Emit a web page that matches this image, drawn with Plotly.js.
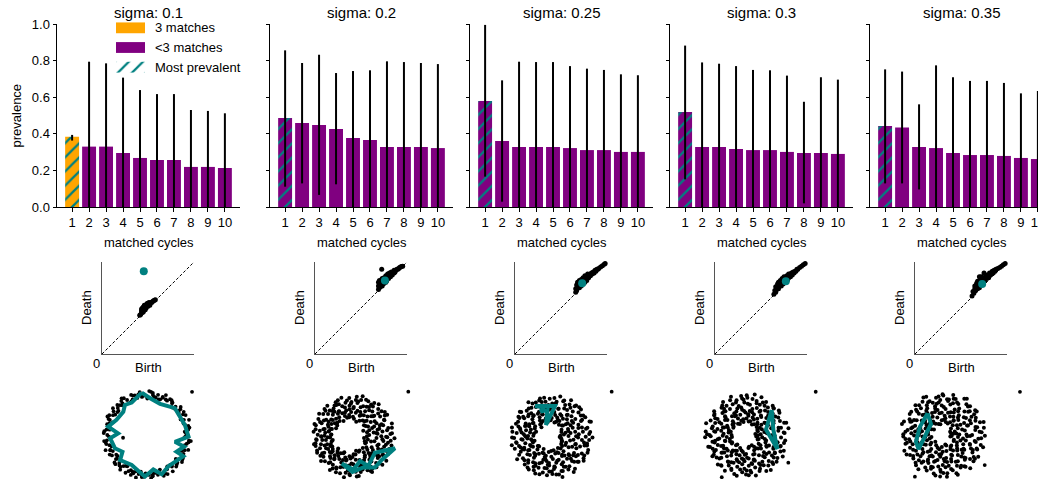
<!DOCTYPE html>
<html>
<head>
<meta charset="utf-8">
<script src="https://cdn.plot.ly/plotly-3.0.1.min.js"></script>
<style>
html, body { margin:0; padding:0; background:#fff; overflow:hidden; }
#wrap { width:1038px; height:479px; overflow:hidden; position:relative; }
#chart { position:absolute; left:0; top:0; width:1060px; height:540px; }
</style>
</head>
<body>
<div id="wrap"><div id="chart"></div></div>
<script>
// ================= DATA =================
const sigmaLabels = ['sigma: 0.1', 'sigma: 0.2', 'sigma: 0.25', 'sigma: 0.3', 'sigma: 0.35'];
const matchedCycles = [1, 2, 3, 4, 5, 6, 7, 8, 9, 10];
const yTickValues = [0, 0.2, 0.4, 0.6, 0.8, 1.0];
const legendLabels = ['3 matches', '<3 matches', 'Most prevalent'];
const legendPatch = [1, 1, 1];
const mostPrevalentCycle = [1, 1, 1, 1, 1];

const prevalence_s01  = [0.384, 0.330, 0.330, 0.295, 0.268, 0.257, 0.257, 0.219, 0.219, 0.213];
const errLow_s01      = [0.363, 0, 0, 0, 0, 0, 0, 0, 0, 0];
const errHigh_s01     = [0.394, 0.794, 0.785, 0.707, 0.639, 0.617, 0.617, 0.530, 0.525, 0.512];
const fullMatch_s01   = [true, false, false, false, false, false, false, false, false, false];

const prevalence_s02  = [0.486, 0.459, 0.448, 0.426, 0.377, 0.366, 0.328, 0.328, 0.328, 0.322];
const errLow_s02      = [0.111, 0.129, 0.066, 0.124, 0, 0, 0, 0, 0, 0];
const errHigh_s02     = [0.856, 0.787, 0.832, 0.732, 0.743, 0.747, 0.796, 0.792, 0.787, 0.781];
const fullMatch_s02   = [false, false, false, false, false, false, false, false, false, false];

const prevalence_s025 = [0.579, 0.361, 0.328, 0.328, 0.328, 0.322, 0.311, 0.311, 0.301, 0.301];
const errLow_s025     = [0.166, 0.029, 0, 0, 0, 0, 0, 0, 0, 0];
const errHigh_s025    = [0.995, 0.692, 0.794, 0.792, 0.792, 0.770, 0.756, 0.749, 0.725, 0.720];
const fullMatch_s025  = [false, false, false, false, false, false, false, false, false, false];

const prevalence_s03  = [0.519, 0.328, 0.328, 0.317, 0.311, 0.311, 0.301, 0.295, 0.295, 0.290];
const errLow_s03      = [0.151, 0, 0, 0, 0, 0, 0, 0.020, 0, 0];
const errHigh_s03     = [0.882, 0.790, 0.783, 0.770, 0.749, 0.747, 0.718, 0.575, 0.709, 0.696];
const fullMatch_s03   = [false, false, false, false, false, false, false, false, false, false];

const prevalence_s035 = [0.443, 0.434, 0.328, 0.322, 0.295, 0.284, 0.284, 0.279, 0.268, 0.262];
const errLow_s035     = [0.129, 0.129, 0.096, 0, 0, 0, 0, 0, 0, 0];
const errHigh_s035    = [0.752, 0.740, 0.561, 0.774, 0.709, 0.689, 0.689, 0.678, 0.621, 0.634];
const fullMatch_s035  = [false, false, false, false, false, false, false, false, false, false];

// persistence diagrams (birth, death)
const diagonalLine = [0, 1];
const pdBirth_s01 = [0.41,0.42,0.43,0.43,0.44,0.44,0.44,0.45,0.45,0.46,0.46,0.47,0.47,0.47,0.48,0.48,0.49,0.50,0.50,0.51,0.52,0.52,0.53,0.54,0.55,0.56,0.57,0.58,0.43,0.45,0.46,0.49,0.51];
const pdDeath_s01 = [0.42,0.43,0.47,0.45,0.45,0.49,0.50,0.50,0.46,0.48,0.52,0.51,0.48,0.53,0.50,0.53,0.53,0.52,0.55,0.54,0.55,0.53,0.56,0.56,0.57,0.58,0.585,0.59,0.49,0.51,0.53,0.55,0.56];
const pdBirth_s02 = [0.69,0.69,0.69,0.70,0.70,0.70,0.71,0.71,0.72,0.72,0.73,0.73,0.73,0.74,0.74,0.75,0.75,0.76,0.77,0.77,0.77,0.78,0.79,0.79,0.80,0.81,0.81,0.82,0.83,0.83,0.84,0.85,0.86,0.86,0.87,0.88,0.89,0.90,0.91,0.92,0.93,0.94,0.953,0.725];
const pdDeath_s02 = [0.70,0.74,0.78,0.72,0.76,0.80,0.73,0.77,0.75,0.79,0.74,0.78,0.82,0.76,0.80,0.77,0.83,0.79,0.78,0.82,0.85,0.80,0.84,0.87,0.82,0.85,0.88,0.84,0.87,0.89,0.86,0.89,0.88,0.91,0.89,0.91,0.92,0.92,0.93,0.94,0.945,0.95,0.955,0.92];
const pdBirth_s025 = [0.66,0.66,0.67,0.67,0.68,0.68,0.69,0.70,0.70,0.71,0.72,0.72,0.73,0.74,0.74,0.75,0.76,0.76,0.77,0.78,0.79,0.79,0.80,0.81,0.82,0.83,0.84,0.85,0.86,0.87,0.88,0.89,0.90,0.91,0.93,0.95,0.97,0.98];
const pdDeath_s025 = [0.67,0.71,0.69,0.75,0.72,0.78,0.74,0.72,0.80,0.76,0.74,0.81,0.78,0.76,0.83,0.80,0.78,0.85,0.82,0.80,0.84,0.87,0.83,0.86,0.85,0.88,0.87,0.89,0.88,0.91,0.90,0.92,0.92,0.93,0.945,0.96,0.975,0.985];
const pdBirth_s03 = [0.64,0.65,0.66,0.66,0.67,0.68,0.69,0.69,0.70,0.71,0.72,0.72,0.73,0.74,0.75,0.75,0.76,0.77,0.78,0.79,0.80,0.80,0.81,0.82,0.83,0.84,0.85,0.86,0.87,0.88,0.89,0.90,0.92,0.94,0.96,0.98];
const pdDeath_s03 = [0.65,0.69,0.67,0.73,0.70,0.76,0.71,0.78,0.74,0.80,0.74,0.78,0.82,0.76,0.80,0.84,0.78,0.82,0.85,0.81,0.83,0.87,0.85,0.84,0.88,0.86,0.89,0.88,0.90,0.90,0.92,0.92,0.94,0.955,0.97,0.985];
const pdBirth_s035 = [0.62,0.63,0.64,0.65,0.65,0.66,0.67,0.68,0.68,0.69,0.70,0.71,0.72,0.72,0.73,0.74,0.75,0.76,0.77,0.78,0.79,0.80,0.81,0.82,0.83,0.84,0.85,0.86,0.87,0.88,0.90,0.92,0.94,0.96,0.98,0.70,0.75];
const pdDeath_s035 = [0.63,0.68,0.66,0.71,0.74,0.69,0.77,0.71,0.79,0.75,0.72,0.81,0.76,0.84,0.79,0.77,0.83,0.80,0.86,0.82,0.85,0.83,0.88,0.86,0.87,0.90,0.88,0.91,0.90,0.92,0.93,0.94,0.955,0.97,0.985,0.84,0.88];
const pdTopBirth = [0.454, 0.76, 0.73, 0.77, 0.73];
const pdTopDeath = [0.90, 0.80, 0.77, 0.79, 0.76];

// point clouds (polar: angle in degrees, radius)
const cloudTheta_s01 = [0,5,10,15,20,25,30,35,40,45,50,55,60,65,70,75,80,85,90,95,100,105,110,115,120,125,130,135,140,145,150,155,160,165,170,175,180,185,190,195,200,205,210,215,220,225,230,235,240,245,250,255,260,265,270,275,280,285,290,295,300,305,310,315,320,325,330,335,340,345,350,355,
 7,22,38,52,68,82,98,112,128,142,158,172,188,202,218,232,248,262,278,292,308,322,338,352,
 2.5,12.5,22.5,32.5,42.5,52.5,62.5,72.5,82.5,92.5,102.5,112.5,122.5,132.5,142.5,152.5,162.5,172.5,182.5,192.5,202.5,212.5,222.5,232.5,242.5,252.5,262.5,272.5,282.5,292.5,302.5,312.5,322.5,332.5,342.5,352.5,
 7.5,17.5,27.5,37.5,47.5,57.5,67.5,77.5,87.5,97.5,107.5,117.5,127.5,137.5,147.5,157.5,167.5,177.5,187.5,197.5,207.5,217.5,227.5,237.5,247.5,257.5,267.5,277.5,287.5,297.5,307.5,317.5,327.5,337.5,347.5,357.5,
 186.5];
const cloudR_s01 = [1.00,0.94,1.07,0.98,1.11,0.92,1.03,0.96,1.09,1.00,0.93,1.06,0.99,1.10,0.95,1.04,0.97,1.08,0.91,1.02,1.09,0.96,1.05,0.93,1.01,1.12,0.97,1.06,0.94,1.03,0.99,1.10,0.92,1.04,0.97,1.08,1.00,0.93,1.06,0.98,1.11,0.95,1.02,0.91,1.07,0.99,1.04,0.94,1.09,0.97,1.02,1.10,0.93,1.05,0.98,1.08,0.95,1.03,0.92,1.06,0.99,1.11,0.96,1.04,0.93,1.07,1.00,0.94,1.09,0.97,1.05,0.92,
 1.02,0.97,1.05,1.01,1.03,1.01,0.96,1.08,1.00,1.09,1.01,0.95,1.09,1.00,0.96,1.10,0.99,1.01,1.00,1.10,1.00,1.10,1.01,1.10,
 0.97,1.05,0.99,1.08,0.95,1.03,1.00,0.93,1.06,0.98,1.04,0.96,1.09,1.01,0.94,1.07,0.99,1.03,0.96,1.05,1.00,0.92,1.08,0.98,1.02,0.95,1.06,1.00,0.97,1.04,0.93,1.07,0.99,1.02,0.96,1.05,
 1.03,0.95,1.08,0.99,0.93,1.06,1.01,0.96,1.10,0.98,1.04,0.92,1.07,1.00,0.95,1.05,0.97,1.09,1.02,0.94,1.06,0.99,1.03,0.93,1.08,1.00,0.96,1.04,0.98,1.10,0.94,1.02,1.06,0.97,1.01,0.95,
 0.61];

const cloudThetaA = [0,2,5,7,10,12,14,17,19,22,24,26,29,31,34,36,38,41,43,46,48,50,53,55,58,60,62,65,67,70,72,74,77,79,82,84,86,89,91,94,96,98,101,103,106,108,110,113,115,118,120,122,125,127,130,132,134,137,139,142,144,146,149,151,154,156,158,161,163,166,168,170,173,175,178,180,182,185,187,190,192,194,197,199,202,204,206,209,211,214,216,218,221,223,226,228,230,233,235,238,240,242,245,247,250,252,254,257,259,262,264,266,269,271,274,276,278,281,283,286,288,290,293,295,298,300,302,305,307,310,312,314,317,319,322,324,326,329,331,334,336,338,341,343,346,348,350,353,355,358];
const cloudThetaB = [1,4,6,9,11,13,16,18,21,23,25,28,30,33,35,37,40,42,45,47,49,52,54,57,59,61,64,66,69,71,73,76,78,81,83,85,88,90,93,95,97,100,102,105,107,109,112,114,117,119,121,124,126,129,131,133,136,138,141,143,145,148,150,153,155,157,160,162,165,167,169,172,174,177,179,181,184,186,189,191,193,196,198,201,203,205,208,210,213,215,217,220,222,225,227,229,232,234,237,239,241,244,246,249,251,253,256,258,261,263,265,268,270,273,275,277,280,282,285,287,289,292,294,297,299,301,304,306,309,311,313,316,318,321,323,325,328,330,333,335,337,340,342,345,347,349,352,354,357,359];

const cloudR_s02 = [0.82,0.34,0.97,0.61,0.74, 0.52,0.9,0.68,1.02,0.43, 0.77,0.58,0.88,0.29,0.95, 0.66,1.0,0.41,0.85,0.71, 0.93,0.52,0.79,0.62,0.99, 0.47,0.84,0.7,0.96,0.58,
 0.8,0.64,1.04,0.38,0.89, 0.6,0.92,0.74,0.5,0.83, 0.97,0.69,0.55,0.87,0.76, 0.5,0.81,0.99,0.65,0.9, 0.73,0.46,0.86,0.78,1.01, 0.88,0.62,0.95,0.53,0.7,
 0.57,1.03,0.72,0.84,0.48, 0.91,0.67,0.59,0.98,0.77, 0.63,0.85,1.0,0.56,0.72, 0.8,0.58,0.92,0.69,0.96, 0.55,0.97,0.75,0.88,0.62, 0.99,0.7,0.83,0.6,0.9,
 0.68,0.48,0.94,0.78,0.57, 0.86,0.74,0.52,1.02,0.66, 0.45,0.9,0.71,0.83,0.97, 0.79,0.6,1.04,0.5,0.73, 0.94,0.67,0.82,0.44,0.88, 0.58,0.99,0.36,0.76,0.85,
 0.72,0.4,0.91,0.64,1.0, 0.87,0.55,0.7,0.96,0.37, 0.63,0.93,0.48,0.81,0.75, 1.02,0.59,0.86,0.34,0.69, 0.78,0.31,0.95,0.66,0.84, 0.54,0.88,0.27,0.73,1.03];
const cloudR2_s02 = [0.7,0.93,0.4,0.58,0.86, 0.99,0.63,0.36,0.8,0.72, 0.52,0.88,0.67,1.01,0.45, 0.84,0.57,0.95,0.74,0.39, 0.68,1.03,0.48,0.9,0.77, 0.92,0.6,0.82,0.43,0.98,
 0.55,0.76,0.94,0.66,0.85, 1.0,0.45,0.71,0.87,0.62, 0.78,0.92,0.5,0.68,1.02, 0.64,0.56,0.89,0.97,0.73, 0.91,0.69,0.6,0.83,0.52, 0.75,1.0,0.85,0.66,0.94,
 0.49,0.8,0.63,0.98,0.7, 0.86,0.57,1.02,0.74,0.62, 0.96,0.71,0.55,0.89,0.8, 0.64,0.93,0.78,0.52,1.0, 0.83,0.68,0.59,0.97,0.74, 0.58,0.88,0.95,0.7,0.63,
 1.01,0.76,0.53,0.66,0.9, 0.72,0.61,0.87,0.95,0.48, 0.88,0.99,0.64,0.56,0.79, 0.62,0.74,0.92,0.85,0.55, 0.97,0.51,0.69,0.78,1.0, 0.45,0.83,0.9,0.6,0.71,
 0.8,0.66,0.38,0.96,0.59, 0.93,0.47,0.77,0.68,0.87, 0.56,1.01,0.62,0.42,0.81, 0.74,0.88,0.53,0.97,0.35, 0.9,0.64,0.81,0.46,0.98, 0.37,0.76,0.94,0.58,0.85];

const cloudR_s025 = [0.61,0.94,0.22,0.79,0.48, 0.88,0.36,0.7,1.05,0.57, 0.45,0.83,0.97,0.64,0.3, 0.74,0.52,0.9,0.4,1.01, 0.58,0.99,0.68,0.86,0.35, 0.92,0.44,0.77,0.6,0.96,
 0.39,0.72,1.03,0.55,0.84, 0.81,0.63,0.47,0.95,0.69, 0.53,0.89,0.74,0.38,1.0, 0.96,0.6,0.85,0.7,0.45, 0.67,1.04,0.5,0.91,0.78, 0.42,0.8,0.65,0.98,0.57,
 0.87,0.49,0.93,0.73,0.62, 0.7,0.95,0.41,0.82,1.02, 0.55,0.76,0.88,0.46,0.66, 0.99,0.61,0.73,0.9,0.5, 0.44,0.85,0.97,0.58,0.79, 0.76,0.53,0.68,1.03,0.4,
 0.9,0.71,0.48,0.83,0.6, 0.63,0.98,0.79,0.37,0.88, 0.83,0.46,1.01,0.69,0.54, 0.5,0.92,0.62,0.8,0.97, 0.72,0.36,0.87,0.56,0.75, 0.95,0.66,0.43,1.04,0.6,
 0.41,0.81,0.7,0.92,0.32, 0.86,0.57,0.99,0.47,0.73, 0.64,0.9,0.35,0.78,1.0, 0.8,0.5,0.94,0.28,0.68, 0.39,0.97,0.62,0.85,0.25, 0.9,0.55,0.76,0.2,1.02];
const cloudR2_s025 = [0.85,0.42,0.68,0.97,0.31, 0.6,0.92,0.79,0.44,1.02, 0.73,0.27,0.87,0.55,0.95, 0.9,0.64,0.47,1.0,0.71, 0.38,0.82,0.95,0.66,0.53, 0.77,1.03,0.58,0.86,0.45,
 0.93,0.5,0.72,0.36,0.88, 0.62,0.97,0.83,0.7,0.41, 0.8,0.67,0.99,0.52,0.9, 0.48,0.74,0.61,0.94,0.84, 0.96,0.57,0.88,0.43,0.7, 0.69,0.9,0.35,0.78,1.01,
 0.58,0.83,0.97,0.64,0.47, 0.92,0.72,0.55,0.87,0.66, 0.8,0.45,0.99,0.7,0.59, 0.63,0.94,0.76,0.52,0.89, 1.02,0.68,0.49,0.82,0.74, 0.57,0.86,0.93,0.65,0.42,
 0.75,0.4,0.9,0.6,0.97, 0.88,0.69,0.53,1.0,0.78, 0.46,0.95,0.73,0.84,0.61, 0.99,0.58,0.8,0.39,0.71, 0.66,0.87,0.5,0.93,0.81, 0.77,0.34,0.96,0.62,0.89,
 0.9,0.73,0.44,0.83,0.55, 0.52,1.04,0.67,0.37,0.79, 0.84,0.61,0.92,0.71,0.3, 0.69,0.96,0.4,0.86,0.57, 0.98,0.28,0.75,0.63,0.91, 0.47,0.82,0.23,0.94,0.66];

const cloudR_s03 = [0.7,0.28,0.93,0.51,1.06, 0.45,0.82,0.64,0.99,0.3, 0.91,0.59,0.77,0.38,0.86, 0.55,1.02,0.33,0.73,0.96, 0.8,0.42,0.88,0.62,0.5, 0.97,0.68,0.31,0.84,0.74,
 0.48,0.9,0.6,1.05,0.36, 0.78,0.54,0.95,0.43,0.83, 0.62,1.0,0.72,0.35,0.92, 0.87,0.4,0.66,0.98,0.57, 0.34,0.79,1.03,0.61,0.88, 0.94,0.5,0.83,0.7,0.45,
 0.67,0.97,0.39,0.9,0.76, 0.52,0.85,0.63,1.06,0.41, 0.89,0.46,0.79,0.58,0.99, 0.6,1.04,0.37,0.73,0.87, 0.82,0.55,0.96,0.44,0.69, 0.4,0.9,0.65,1.0,0.76,
 0.93,0.6,0.84,0.32,0.71, 0.56,0.98,0.47,0.8,1.03, 0.77,0.35,0.91,0.64,0.52, 1.01,0.69,0.42,0.86,0.6, 0.48,0.83,0.97,0.55,0.75, 0.88,0.31,0.72,1.02,0.63,
 0.66,0.94,0.5,0.81,0.27, 0.85,0.58,1.05,0.39,0.7, 0.43,0.92,0.67,0.99,0.8, 0.95,0.36,0.82,0.57,0.74, 0.61,1.0,0.29,0.89,0.5, 0.79,0.46,0.97,0.24,0.68];
const cloudR2_s03 = [0.63,0.95,0.35,0.8,0.22, 0.88,0.5,1.04,0.69,0.41, 0.74,0.3,0.91,0.57,1.0, 0.46,0.85,0.66,0.96,0.39, 0.99,0.59,0.78,0.34,0.87, 0.71,0.92,0.44,1.03,0.56,
 0.85,0.37,0.68,0.93,0.62, 0.5,0.8,1.01,0.58,0.9, 0.94,0.66,0.42,0.77,0.55, 0.72,1.05,0.86,0.48,0.64, 0.57,0.9,0.37,0.97,0.81, 0.83,0.45,0.73,0.62,1.02,
 0.4,0.96,0.84,0.55,0.7, 0.98,0.6,0.47,0.88,0.75, 0.65,0.82,1.03,0.38,0.93, 0.9,0.5,0.69,0.8,0.43, 0.56,1.0,0.76,0.91,0.64, 0.85,0.42,0.95,0.6,0.73,
 0.7,0.89,0.36,1.02,0.51, 0.98,0.63,0.8,0.45,0.87, 0.53,0.75,0.94,0.67,0.39, 0.81,1.03,0.58,0.72,0.92, 0.64,0.46,0.87,0.99,0.57, 0.93,0.7,0.28,0.82,0.62,
 0.5,0.89,0.76,0.41,1.01, 0.76,0.33,0.92,0.65,0.84, 0.97,0.6,0.48,0.87,0.7, 0.42,0.83,1.04,0.55,0.93, 0.73,0.5,0.88,0.31,0.78, 0.95,0.66,0.39,0.86,0.26];

const cloudR_s035 = [0.58,0.96,0.33,0.81,0.2, 0.87,0.49,1.06,0.66,0.75, 0.4,0.92,0.6,0.84,1.02, 0.71,0.25,0.89,0.53,0.98, 0.94,0.63,0.44,1.08,0.77, 0.52,0.86,0.7,0.31,0.95,
 0.83,1.03,0.57,0.9,0.42, 0.65,0.38,0.99,0.74,0.88, 0.97,0.55,0.8,0.28,0.69, 0.46,0.91,1.05,0.62,0.85, 0.78,0.34,0.68,0.96,0.51, 1.02,0.72,0.88,0.45,0.6,
 0.56,0.99,0.27,0.82,0.93, 0.86,0.47,0.74,1.07,0.64, 0.39,0.9,0.59,0.8,1.0, 0.73,0.52,0.95,0.3,0.84, 0.97,0.67,0.43,0.89,0.61, 0.54,1.04,0.79,0.36,0.92,
 0.81,0.26,0.7,0.98,0.57, 0.46,0.88,1.06,0.63,0.76, 0.93,0.6,0.35,0.85,0.71, 0.68,0.99,0.5,0.8,0.3, 0.87,0.42,0.95,0.66,1.05, 0.58,0.78,0.24,0.91,0.69,
 1.01,0.53,0.84,0.4,0.75, 0.35,0.94,0.62,1.07,0.82, 0.77,0.48,0.9,0.59,0.99, 0.64,1.03,0.3,0.83,0.55, 0.92,0.71,0.45,0.97,0.18, 0.8,0.37,0.88,0.6,1.04];
const cloudR2_s035 = [0.72,0.4,0.91,0.25,1.03, 0.55,0.83,0.3,0.97,0.64, 0.88,0.19,0.76,0.5,0.93, 0.42,1.01,0.68,0.85,0.34, 0.79,0.57,0.96,0.45,0.7, 1.05,0.36,0.62,0.88,0.49,
 0.6,0.94,0.78,0.33,0.86, 0.9,0.48,0.7,1.02,0.56, 0.37,0.82,0.95,0.64,0.75, 0.85,0.61,0.3,0.9,1.06, 0.53,0.98,0.74,0.42,0.87, 0.69,0.4,0.93,0.81,0.58,
 0.99,0.65,0.49,0.76,0.33, 0.44,0.89,1.04,0.6,0.79, 0.82,0.54,0.71,0.95,0.38, 0.61,1.0,0.45,0.86,0.68, 0.93,0.35,0.8,0.57,1.05, 0.7,0.84,0.5,0.97,0.63,
 0.4,0.95,0.66,0.78,0.88, 1.02,0.52,0.83,0.31,0.72, 0.59,0.79,0.98,0.47,0.9, 0.85,0.37,0.64,1.03,0.55, 0.48,0.92,0.75,0.6,0.81, 0.96,0.68,0.41,0.87,0.27,
 0.63,1.06,0.56,0.74,0.92, 0.89,0.46,0.97,0.33,0.7, 0.52,0.8,0.66,1.0,0.43, 0.94,0.61,0.85,0.39,0.77, 0.29,0.9,0.7,1.04,0.58, 0.83,0.5,0.21,0.95,0.67];

// isolated points of each cloud
const strayTheta_s01 = [44];            const strayR_s01 = [1.555];
const strayTheta_s02 = [39.3];          const strayR_s02 = [1.777];
const strayTheta_s025 = [36.9];         const strayR_s025 = [1.875];
const strayTheta_s03 = [32.5, 327, 239]; const strayR_s03 = [2.046, 1.24, 1.21];
const strayTheta_s035 = [29.4, 324, 235.7, 265.6]; const strayR_s035 = [2.2, 1.28, 1.26, 1.04];

// most prevalent cycle drawn on the cloud
const cycleTheta_s01 = [97.5,85.6,67.7,44.2,14.9,-2.2,-13.8,-17.5,-29.9,-30.5,-55.8,-69.8,-80.1,-93.3,-102.3,-117.5,-137.2,-145.9,-157.8,-175.1,176.9,167.9,153.7,136.0,126.7,115.7,97.5];
const cycleR_s01     = [1.069,0.923,0.843,0.962,0.973,1.031,0.711,0.965,0.842,1.044,0.943,1.044,0.873,1.042,0.941,0.845,0.927,0.749,0.875,0.933,0.731,1.002,0.859,0.834,0.936,0.899,1.069];
const cycleTheta_s02 = [246.6,270,285.6,297.2,323.5,344.4,320.8,305.0,288.0,268.7,246.6];
const cycleR_s02     = [0.73,0.82,0.633,0.821,0.672,1.08,0.917,0.94,0.81,0.88,0.73];
const cycleTheta_s025 = [118.5,83.8,115.9,99.2,113.7,105.8,118.5];
const cycleR_s025     = [0.873,0.771,0.325,0.676,0.683,0.762,0.873];
const cycleTheta_s03 = [45.8,18.1,336.5,12.0,45.8];
const cycleR_s03     = [0.896,0.508,0.836,0.682,0.896];
const cycleTheta_s035 = [125.9,138.2,209.6,193.7,160.4,125.9];
const cycleR_s035     = [0.669,0.413,0.709,0.703,0.619,0.669];

// ================= BUILD =================
const prevalence = [prevalence_s01, prevalence_s02, prevalence_s025, prevalence_s03, prevalence_s035];
const errLow = [errLow_s01, errLow_s02, errLow_s025, errLow_s03, errLow_s035];
const errHigh = [errHigh_s01, errHigh_s02, errHigh_s025, errHigh_s03, errHigh_s035];
const fullMatch = [fullMatch_s01, fullMatch_s02, fullMatch_s025, fullMatch_s03, fullMatch_s035];
const pdBirth = [pdBirth_s01, pdBirth_s02, pdBirth_s025, pdBirth_s03, pdBirth_s035];
const pdDeath = [pdDeath_s01, pdDeath_s02, pdDeath_s025, pdDeath_s03, pdDeath_s035];
const cloudTheta = [cloudTheta_s01, cloudThetaA.concat(cloudThetaB), cloudThetaB.concat(cloudThetaA),
                    cloudThetaA.concat(cloudThetaB), cloudThetaB.concat(cloudThetaA)];
const cloudR = [cloudR_s01, cloudR_s02.concat(cloudR2_s02), cloudR_s025.concat(cloudR2_s025),
                cloudR_s03.concat(cloudR2_s03), cloudR_s035.concat(cloudR2_s035)];
const strayTheta = [strayTheta_s01, strayTheta_s02, strayTheta_s025, strayTheta_s03, strayTheta_s035];
const strayR = [strayR_s01, strayR_s02, strayR_s025, strayR_s03, strayR_s035];
const cycleTheta = [cycleTheta_s01, cycleTheta_s02, cycleTheta_s025, cycleTheta_s03, cycleTheta_s035];
const cycleR = [cycleR_s01, cycleR_s02, cycleR_s025, cycleR_s03, cycleR_s035];

const W = 1060, H = 540;
const fx = p => p / W;
const fy = p => 1 - p / H;
const FONT = '"Liberation Sans", Arial, Helvetica, sans-serif';
const ORANGE = '#FFA500', PURPLE = '#800080', TEAL = '#008080';
const HATCH = {shape: '/', fgcolor: TEAL, size: 10, solidity: 0.22, fillmode: 'overlay', fgopacity: 1};

const barLeft = [57, 270, 470, 670, 870], barW = 183, barTop = 24, barBot = 207;
const pdLeft = [102, 315, 515, 715, 915], pdSize = 92, pdTop = 262;
const cloudCx = [147.3, 353.3, 551.7, 746.7, 943.3], cloudCy = [435, 436.7, 436.7, 435.7, 435];
const cloudPix = 92, cloudRange = 2.3;

const traces = [];
const ann = [];
const layout = {
  width: W, height: H, margin: {l: 0, r: 0, t: 0, b: 0},
  paper_bgcolor: '#fff', plot_bgcolor: 'rgba(0,0,0,0)',
  showlegend: false, barmode: 'overlay',
  font: {family: FONT, size: 13, color: '#000'}
};

function pick(arr, idx) { return idx.map(i => arr[i]); }

for (let k = 0; k < 5; k++) {
  const s = k === 0 ? '' : String(k + 1);
  const vals = prevalence[k];
  const cols = fullMatch[k].map(f => f ? ORANGE : PURPLE);
  const hatchIdx = [], plainIdx = [];
  matchedCycles.forEach((c, j) => (c === mostPrevalentCycle[k] ? hatchIdx : plainIdx).push(j));
  const errUp = errHigh[k].map((h, j) => h - vals[j]);
  const errDn = errLow[k].map((l, j) => vals[j] - l);
  // plain bars
  traces.push({
    type: 'bar', x: pick(matchedCycles, plainIdx), y: pick(vals, plainIdx), xaxis: 'x' + s, yaxis: 'y' + s, width: 0.82,
    marker: {color: pick(cols, plainIdx), line: {width: 0}},
    error_y: {type: 'data', symmetric: false, visible: true, array: pick(errUp, plainIdx), arrayminus: pick(errDn, plainIdx),
      color: '#000', thickness: 2, width: 0},
    hoverinfo: 'skip', showlegend: false
  });
  // most prevalent (hatched) bar
  hatchIdx.forEach(j => {
    traces.push({
      type: 'bar', x: [matchedCycles[j]], y: [vals[j]], xaxis: 'x' + s, yaxis: 'y' + s, width: 0.82,
      marker: {color: cols[j], line: {width: 0}, pattern: HATCH},
      error_y: {type: 'data', symmetric: false, visible: true, array: [errUp[j]], arrayminus: [errDn[j]],
        color: '#000', thickness: 2, width: 0},
      hoverinfo: 'skip', showlegend: false
    });
  });
  const L = barLeft[k];
  layout['xaxis' + s] = {
    domain: [fx(L), fx(L + barW)], anchor: 'y' + s, range: [0.11, 10.89],
    tickvals: matchedCycles, ticks: 'outside', ticklen: 3.5, tickwidth: 1, tickcolor: '#000',
    showline: true, linecolor: '#000', linewidth: 1, showgrid: false, zeroline: false,
    tickfont: {size: 13}, fixedrange: true
  };
  layout['yaxis' + s] = {
    domain: [fy(barBot), fy(barTop)], anchor: 'x' + s, range: [0, 1],
    tickvals: yTickValues, tickformat: '.1f', showticklabels: k === 0,
    ticks: 'outside', ticklen: 3.5, tickwidth: 1, tickcolor: '#000',
    showline: true, linecolor: '#000', linewidth: 1, showgrid: false, zeroline: false,
    tickfont: {size: 13}, fixedrange: true
  };
  ann.push({xref: 'paper', yref: 'paper', x: fx(L + barW / 2), y: fy(12), text: sigmaLabels[k],
    showarrow: false, xanchor: 'center', yanchor: 'middle', font: {size: 15}});
  ann.push({xref: 'paper', yref: 'paper', x: fx(L + barW / 2), y: fy(242), text: 'matched cycles',
    showarrow: false, xanchor: 'center', yanchor: 'middle', font: {size: 13}});

  // persistence diagram
  const p = String(k + 6);
  const P = pdLeft[k];
  layout['xaxis' + p] = {domain: [fx(P), fx(P + pdSize)], anchor: 'y' + p, range: [0, 1],
    showline: true, linecolor: '#555', linewidth: 1.3, ticks: '', showticklabels: false,
    showgrid: false, zeroline: false, fixedrange: true};
  layout['yaxis' + p] = {domain: [fy(pdTop + pdSize), fy(pdTop)], anchor: 'x' + p, range: [0, 1],
    showline: true, linecolor: '#555', linewidth: 1.3, ticks: '', showticklabels: false,
    showgrid: false, zeroline: false, fixedrange: true};
  traces.push({type: 'scatter', mode: 'lines', x: diagonalLine, y: diagonalLine, xaxis: 'x' + p, yaxis: 'y' + p,
    line: {color: '#000', width: 1, dash: '3px,2px'}, hoverinfo: 'skip', cliponaxis: false});
  traces.push({type: 'scatter', mode: 'markers', x: pdBirth[k], y: pdDeath[k], xaxis: 'x' + p, yaxis: 'y' + p,
    marker: {color: '#000', size: 5}, hoverinfo: 'skip', cliponaxis: false});
  traces.push({type: 'scatter', mode: 'markers', x: [pdTopBirth[k]], y: [pdTopDeath[k]], xaxis: 'x' + p, yaxis: 'y' + p,
    marker: {color: TEAL, size: 8}, hoverinfo: 'skip', cliponaxis: false});
  ann.push({xref: 'paper', yref: 'paper', x: fx(P + pdSize / 2), y: fy(367), text: 'Birth',
    showarrow: false, xanchor: 'center', yanchor: 'middle', font: {size: 13}});
  ann.push({xref: 'paper', yref: 'paper', x: fx(P - 16), y: fy(pdTop + pdSize / 2), text: 'Death', textangle: -90,
    showarrow: false, xanchor: 'center', yanchor: 'middle', font: {size: 13}});
  ann.push({xref: 'x' + p, yref: 'y' + p, x: 0, y: 0, text: '0', showarrow: false,
    xanchor: 'right', yanchor: 'top', xshift: 0, yshift: 0, font: {size: 13}});

  // point cloud
  const ps = k === 0 ? '' : String(k + 1);
  const cx = cloudCx[k], cy = cloudCy[k];
  layout['polar' + ps] = {
    domain: {x: [fx(cx - cloudPix), fx(cx + cloudPix)], y: [fy(cy + cloudPix), fy(cy - cloudPix)]},
    bgcolor: 'rgba(0,0,0,0)',
    radialaxis: {visible: false, range: [0, cloudRange], showline: false, showgrid: false, showticklabels: false, ticks: ''},
    angularaxis: {visible: false, showline: false, showgrid: false, showticklabels: false, ticks: ''}
  };
  traces.push({type: 'scatterpolar', subplot: 'polar' + ps, theta: cloudTheta[k], r: cloudR[k], mode: 'markers',
    marker: {color: '#000', size: k === 0 ? 3.8 : 4}, hoverinfo: 'skip'});
  traces.push({type: 'scatterpolar', subplot: 'polar' + ps, theta: strayTheta[k], r: strayR[k], mode: 'markers',
    marker: {color: '#000', size: 3.8}, hoverinfo: 'skip'});
  traces.push({type: 'scatterpolar', subplot: 'polar' + ps, theta: cycleTheta[k], r: cycleR[k], mode: 'lines',
    line: {color: TEAL, width: 4}, hoverinfo: 'skip'});
}

ann.push({xref: 'paper', yref: 'paper', x: fx(16), y: fy(115.5), text: 'prevalence', textangle: -90,
  showarrow: false, xanchor: 'center', yanchor: 'middle', font: {size: 13}});

// legend drawn as a tiny bar axis, one trace per entry
layout.xaxis11 = {domain: [fx(116), fx(145)], anchor: 'y11', range: [0, 1], visible: false, fixedrange: true};
layout.yaxis11 = {domain: [fy(77), fy(18)], anchor: 'x11', type: 'category', categoryorder: 'array', categoryarray: legendLabels,
  autorange: 'reversed', side: 'right', showline: false, showgrid: false, zeroline: false, ticks: '',
  ticklabelstandoff: 9, tickfont: {size: 13}, fixedrange: true};
const legendMarkers = [
  {color: ORANGE, line: {width: 0}},
  {color: PURPLE, line: {width: 0}},
  {color: '#ffffff', line: {width: 0}, pattern: HATCH}
];
legendLabels.forEach((lab, j) => {
  traces.push({type: 'bar', orientation: 'h', x: [legendPatch[j]], y: [lab], xaxis: 'x11', yaxis: 'y11', width: 0.55,
    marker: legendMarkers[j], hoverinfo: 'skip', showlegend: false});
});

layout.annotations = ann;
Plotly.newPlot('chart', traces, layout, {staticPlot: true, displayModeBar: false});
</script>
</body>
</html>
